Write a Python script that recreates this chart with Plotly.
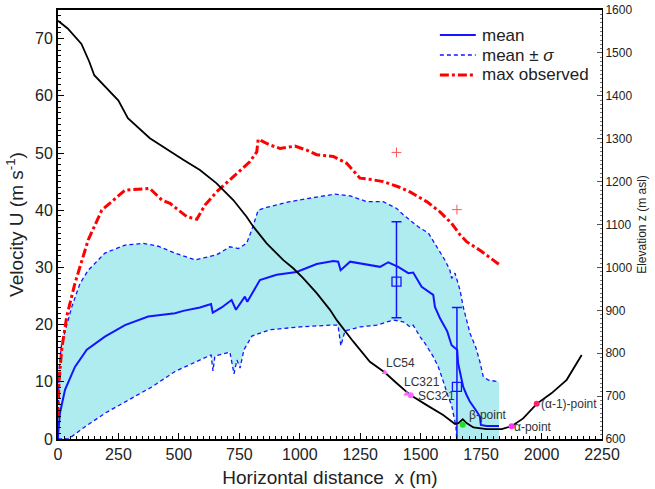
import plotly.graph_objects as go

# ---------------- data ----------------
# elevation profile (x in m, z in m asl)
prof_x = [0, 40, 97, 129, 150, 202, 250, 289, 380, 518, 587, 656, 725, 780, 808, 863, 932, 973, 1014,
          1070, 1125, 1153, 1220, 1290, 1352, 1401, 1456, 1525, 1593, 1642, 1656, 1674, 1690, 1718,
          1773, 1835, 1876, 1924, 1980, 2042, 2104, 2166]
prof_z = [1575, 1557, 1521, 1480, 1448, 1416, 1389, 1348, 1301, 1251, 1227, 1196, 1157, 1118, 1095,
          1056, 1017, 998, 975, 940, 901, 877, 828, 780, 755, 730, 703, 679, 656, 635, 637, 646, 637,
          627, 623, 623, 630, 648, 682, 707, 738, 796]

# max observed velocity
max_x = [0, 4, 15, 36, 70, 125, 181, 277, 380, 429, 463, 532, 574, 608, 656, 725, 794, 822, 828, 877,
         918, 980, 1029, 1070, 1139, 1194, 1249, 1290, 1345, 1407, 1456, 1525, 1580, 1628, 1663, 1690,
         1745, 1828]
max_u = [3.9, 9.8, 15.6, 21.4, 27.2, 34.8, 40.0, 43.5, 43.8, 41.8, 41.2, 38.9, 38.4, 40.9, 43.2, 45.9,
         48.5, 50.2, 52.4, 51.4, 50.8, 51.2, 50.5, 49.7, 49.4, 48.2, 45.6, 45.4, 45.0, 44.1, 43.2, 41.5,
         39.7, 37.7, 35.7, 34.5, 33.0, 30.4]

# mean velocity
mean_x = [0, 1, 8, 29, 70, 119, 194, 277, 373, 484, 518, 587, 633, 640, 677, 718, 736, 760, 773, 783,
          835, 904, 987, 1070, 1139, 1159, 1169, 1208, 1277, 1332, 1366, 1407, 1449, 1469, 1504, 1525,
          1552, 1559, 1580, 1600, 1610, 1621, 1628, 1642, 1651, 1655, 1663, 1676, 1690, 1704, 1732,
          1745, 1749, 1773, 1824]
mean_u = [0, 1, 4.5, 8.6, 12.6, 15.6, 17.9, 19.9, 21.4, 22.0, 22.4, 23.0, 23.6, 22.1, 23.0, 24.3, 22.6,
          24.0, 24.9, 24.0, 27.8, 28.7, 29.2, 30.6, 31.1, 31.0, 29.5, 31.0, 30.5, 30.1, 30.9, 30.1, 29.0,
          29.1, 26.6, 26.0, 25.2, 23.1, 21.1, 19.6, 18.8, 17.3, 16.4, 15.9, 15.6, 13.2, 11.5, 9.1, 7.7,
          6.5, 4.8, 3.9, 2.45, 2.27, 2.27]

# mean + sigma
up_x = [0, 4, 15, 57, 91, 125, 194, 277, 353, 415, 484, 567, 656, 711, 746, 780, 801, 828, 863, 959,
        1070, 1146, 1208, 1277, 1345, 1401, 1428, 1490, 1532, 1566, 1600, 1621, 1628, 1642, 1649, 1663,
        1676, 1690, 1704, 1729, 1745, 1759, 1780, 1824]
up_u = [0, 12.0, 16.7, 23.1, 27.2, 29.5, 32.5, 33.9, 34.2, 33.7, 32.5, 31.3, 32.2, 33.6, 33.3, 34.2,
        36.5, 40.0, 40.5, 41.5, 42.3, 42.8, 42.5, 41.5, 41.5, 40.3, 39.2, 37.1, 36.0, 33.6, 31.3, 29.5,
        28.1, 29.0, 28.1, 26.0, 23.1, 20.8, 18.5, 15.9, 13.5, 10.9, 10.3, 10.0]

# mean - sigma
lo_x = [0, 43, 112, 194, 291, 388, 484, 587, 633, 641, 649, 711, 728, 740, 753, 769, 802, 877, 1001,
        1125, 1158, 1170, 1187, 1249, 1318, 1387, 1428, 1456, 1469, 1497, 1518, 1552, 1573, 1587, 1600,
        1614, 1628, 1635, 1642, 1646, 1649, 1824]
lo_u = [0, 0, 2.15, 4.5, 6.8, 9.1, 11.8, 13.8, 14.7, 11.9, 14.5, 15.2, 11.4, 13.8, 12.4, 15.6, 18.0,
        19.1, 19.6, 19.9, 19.9, 16.3, 18.9, 19.6, 19.9, 20.8, 20.5, 19.6, 19.9, 17.9, 16.7, 14.4, 12.6,
        10.9, 9.1, 7.4, 5.9, 4.5, 3.3, 2.15, 0, 0]

# observed points with error bars
obs_x = [1400, 1650]
obs_u = [27.5, 9.1]
obs_plus = [10.5, 13.9]
obs_minus = [6.3, 12.0]

# extra max observations
plus_x = [1400, 1650]
plus_u = [50.1, 40.1]

# named points on profile
pt_names = ["LC54", "LC321", "SC321", "β-point", "α-point", "(α-1)-point"]
pt_x = [1352, 1442, 1459, 1674, 1876, 1980]
pt_z = [755, 705, 702, 633, 630, 682]
pt_sym = ["triangle-up", "triangle-up", "circle", "circle", "circle", "circle"]
pt_col = ["#ff66ff", "#ff66ff", "#ff66ff", "#22dd22", "#ff33ff", "#ff2266"]
lab_x = [1418, 1507, 1566, 1779, 1965, 2113]
lab_u = [13.3, 10.0, 7.5, 4.2, 2.15, 6.1]

# legend entries
leg_names = ["mean", "mean ± <i>σ</i>", "max observed"]

# ---------------- figure ----------------
BLUE = "#1414ff"
RED = "#ff0000"
DASH_SIG = "4px,3px"
DASH_MAX = "9px,3px,3px,3px"
fig = go.Figure()

fig.add_trace(go.Scatter(x=up_x + lo_x[::-1], y=up_u + lo_u[::-1], fill="toself",
                         fillcolor="#aeecf0", line=dict(width=0), mode="lines",
                         showlegend=False, hoverinfo="skip"))
fig.add_trace(go.Scatter(x=lo_x[:-1], y=lo_u[:-1], mode="lines", showlegend=False,
                         line=dict(color=BLUE, width=1.3, dash=DASH_SIG)))
fig.add_trace(go.Scatter(x=mean_x, y=mean_u, mode="lines", name=leg_names[0], showlegend=False,
                         line=dict(color=BLUE, width=2)))
fig.add_trace(go.Scatter(x=up_x, y=up_u, mode="lines", name=leg_names[1], showlegend=False,
                         line=dict(color=BLUE, width=1.3, dash=DASH_SIG)))
fig.add_trace(go.Scatter(x=max_x, y=max_u, mode="lines", name=leg_names[2], showlegend=False,
                         line=dict(color=RED, width=3, dash=DASH_MAX)))
fig.add_trace(go.Scatter(x=plus_x, y=plus_u, mode="markers", showlegend=False,
                         marker=dict(symbol="cross-thin", size=7, line=dict(color="#ff5555", width=1))))
fig.add_trace(go.Scatter(x=obs_x, y=obs_u, mode="markers", showlegend=False,
                         marker=dict(symbol="square-open", size=9, color=BLUE, line=dict(width=1.3)),
                         error_y=dict(type="data", symmetric=False, array=obs_plus,
                                      arrayminus=obs_minus, color=BLUE, thickness=1.5, width=5)))
fig.add_trace(go.Scatter(x=prof_x, y=prof_z, mode="lines", yaxis="y2", showlegend=False,
                         line=dict(color="black", width=1.8)))
fig.add_trace(go.Scatter(x=pt_x, y=pt_z, mode="markers", yaxis="y2", showlegend=False,
                         marker=dict(symbol=pt_sym, size=6, color=pt_col)))

for name, lx, lu in zip(pt_names, lab_x, lab_u):
    fig.add_annotation(x=lx, y=lu, text=name, showarrow=False, xanchor="center",
                       font=dict(size=12, color="#333333"))

# manual legend (paper coordinates)
leg_y = [0.9417, 0.8951, 0.8485]
leg_styles = [dict(color=BLUE, width=2), dict(color=BLUE, width=1.3, dash=DASH_SIG),
              dict(color=RED, width=3, dash=DASH_MAX)]
for name, ly, st in zip(leg_names, leg_y, leg_styles):
    fig.add_shape(type="line", xref="paper", yref="paper", x0=0.702, x1=0.768, y0=ly, y1=ly, line=st)
    fig.add_annotation(xref="paper", yref="paper", x=0.776, y=ly, text=name, showarrow=False,
                       xanchor="left", yanchor="middle", font=dict(size=17, color="#222222"))

fontfam = "Liberation Sans, Arial, sans-serif"
fig.update_layout(
    width=655, height=489,
    margin=dict(l=58, r=53, t=10, b=50, autoexpand=False),
    plot_bgcolor="white", paper_bgcolor="white",
    font=dict(family=fontfam, color="#222222"),
    showlegend=False,
    xaxis=dict(range=[0, 2250], dtick=250, tick0=0, showgrid=False, zeroline=False,
               showline=True, linecolor="black", linewidth=2, mirror=True,
               ticks="inside", ticklen=6, tickcolor="black",
               minor=dict(dtick=25, ticks="inside", ticklen=3, tickcolor="black"),
               tickfont=dict(size=16),
               title=dict(text="Horizontal distance\u00a0\u00a0x (m)", font=dict(size=19), standoff=8)),
    yaxis=dict(range=[0, 75], dtick=10, tick0=0, showgrid=False, zeroline=False,
               showline=True, linecolor="black", linewidth=2,
               ticks="inside", ticklen=6, tickcolor="black",
               minor=dict(dtick=1, ticks="inside", ticklen=3, tickcolor="black"),
               tickfont=dict(size=16),
               title=dict(text="Velocity U (m s<sup>-1</sup>)", font=dict(size=19), standoff=6)),
    yaxis2=dict(range=[600, 1600], dtick=100, tick0=600, overlaying="y", side="right",
                showgrid=False, zeroline=False, showline=True, linecolor="black", linewidth=1,
                ticks="inside", ticklen=5, tickcolor="#555555",
                minor=dict(dtick=10, ticks="inside", ticklen=2, tickcolor="#777777"),
                tickfont=dict(size=12),
                title=dict(text="Elevation z (m asl)", font=dict(size=12), standoff=6)),
)

fig.write_html("out.html")
